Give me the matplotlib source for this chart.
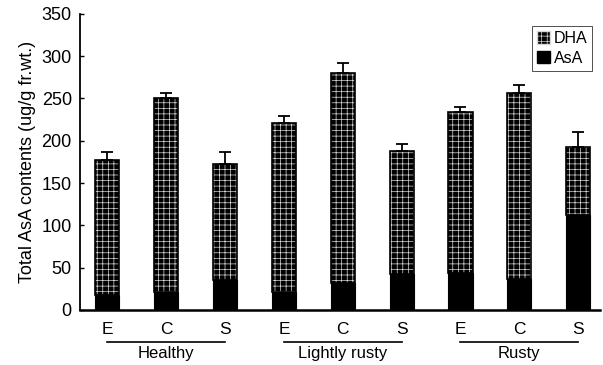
import matplotlib.pyplot as plt
import numpy as np
from matplotlib.patches import Patch

plt.rcParams['font.family'] = ['Liberation Sans', 'DejaVu Sans']
plt.rcParams['hatch.linewidth'] = 0.5

groups = ['Healthy', 'Lightly rusty', 'Rusty']
parts = ['E', 'C', 'S']
total = [177, 251, 173, 221, 280, 188, 234, 257, 192]
err = [10, 6, 14, 8, 12, 8, 6, 9, 18]
asa = [18, 21, 35, 21, 32, 42, 44, 36, 112]
dha = [t - a for t, a in zip(total, asa)]

fig = plt.figure(figsize=(6.03, 3.65), dpi=100)
ax = fig.add_axes([0.133, 0.151, 0.862, 0.811])

x = np.arange(len(total))
w = 0.41

# AsA part (solid black)
ax.bar(x, asa, w, color='black', edgecolor='black', linewidth=0.8, label='AsA')
# DHA part, dark with a light grid texture
ax.bar(x, dha, w, bottom=asa, color='black', edgecolor='#d8d8d8', hatch='+++',
       linewidth=0)
ax.bar(x, dha, w, bottom=asa, fill=False, edgecolor='black', linewidth=1.2)
ax.errorbar(x, total, yerr=[np.zeros(len(err)), err], fmt='none', ecolor='black',
            elinewidth=1.3, capsize=4, capthick=1.3)

h1 = Patch(facecolor='black', edgecolor='#d8d8d8', hatch='+++', label='DHA')
h2 = Patch(facecolor='black', edgecolor='black', label='AsA')
leg = ax.legend(handles=[h1, h2], loc='upper right', bbox_to_anchor=(1.0, 0.985),
                fontsize=11.5, frameon=True, fancybox=False, handlelength=0.8,
                handleheight=0.8, handletextpad=0.25, borderpad=0.3,
                labelspacing=0.3)
leg.get_frame().set_edgecolor('black')
leg.get_frame().set_linewidth(0.6)

ax.set_xlim(-0.46, 8.37)
ax.set_ylim(0, 350)
ax.set_yticks(range(0, 351, 50))
ax.tick_params(axis='y', direction='in', length=3, labelsize=13, width=1, pad=6)
ax.set_xticks(x)
ax.set_xticklabels(parts * 3, fontsize=12.5)
ax.tick_params(axis='x', length=0, pad=9)
ax.spines['top'].set_visible(False)
ax.spines['right'].set_visible(False)
ax.spines['left'].set_linewidth(1.3)
ax.spines['bottom'].set_linewidth(1.8)
ax.set_ylabel('Total AsA contents (ug/g fr.wt.)', fontsize=13, labelpad=4)

# group underlines and names
for i, g in enumerate(groups):
    x0, x1 = 3 * i, 3 * i + 2
    ax.plot([x0, x1], [-0.108, -0.108], color='black', lw=1.2,
            transform=ax.get_xaxis_transform(), clip_on=False)
    ax.text((x0 + x1) / 2, -0.122, g, ha='center', va='top', fontsize=12,
            transform=ax.get_xaxis_transform())

fig.savefig('out.png', dpi=100)
